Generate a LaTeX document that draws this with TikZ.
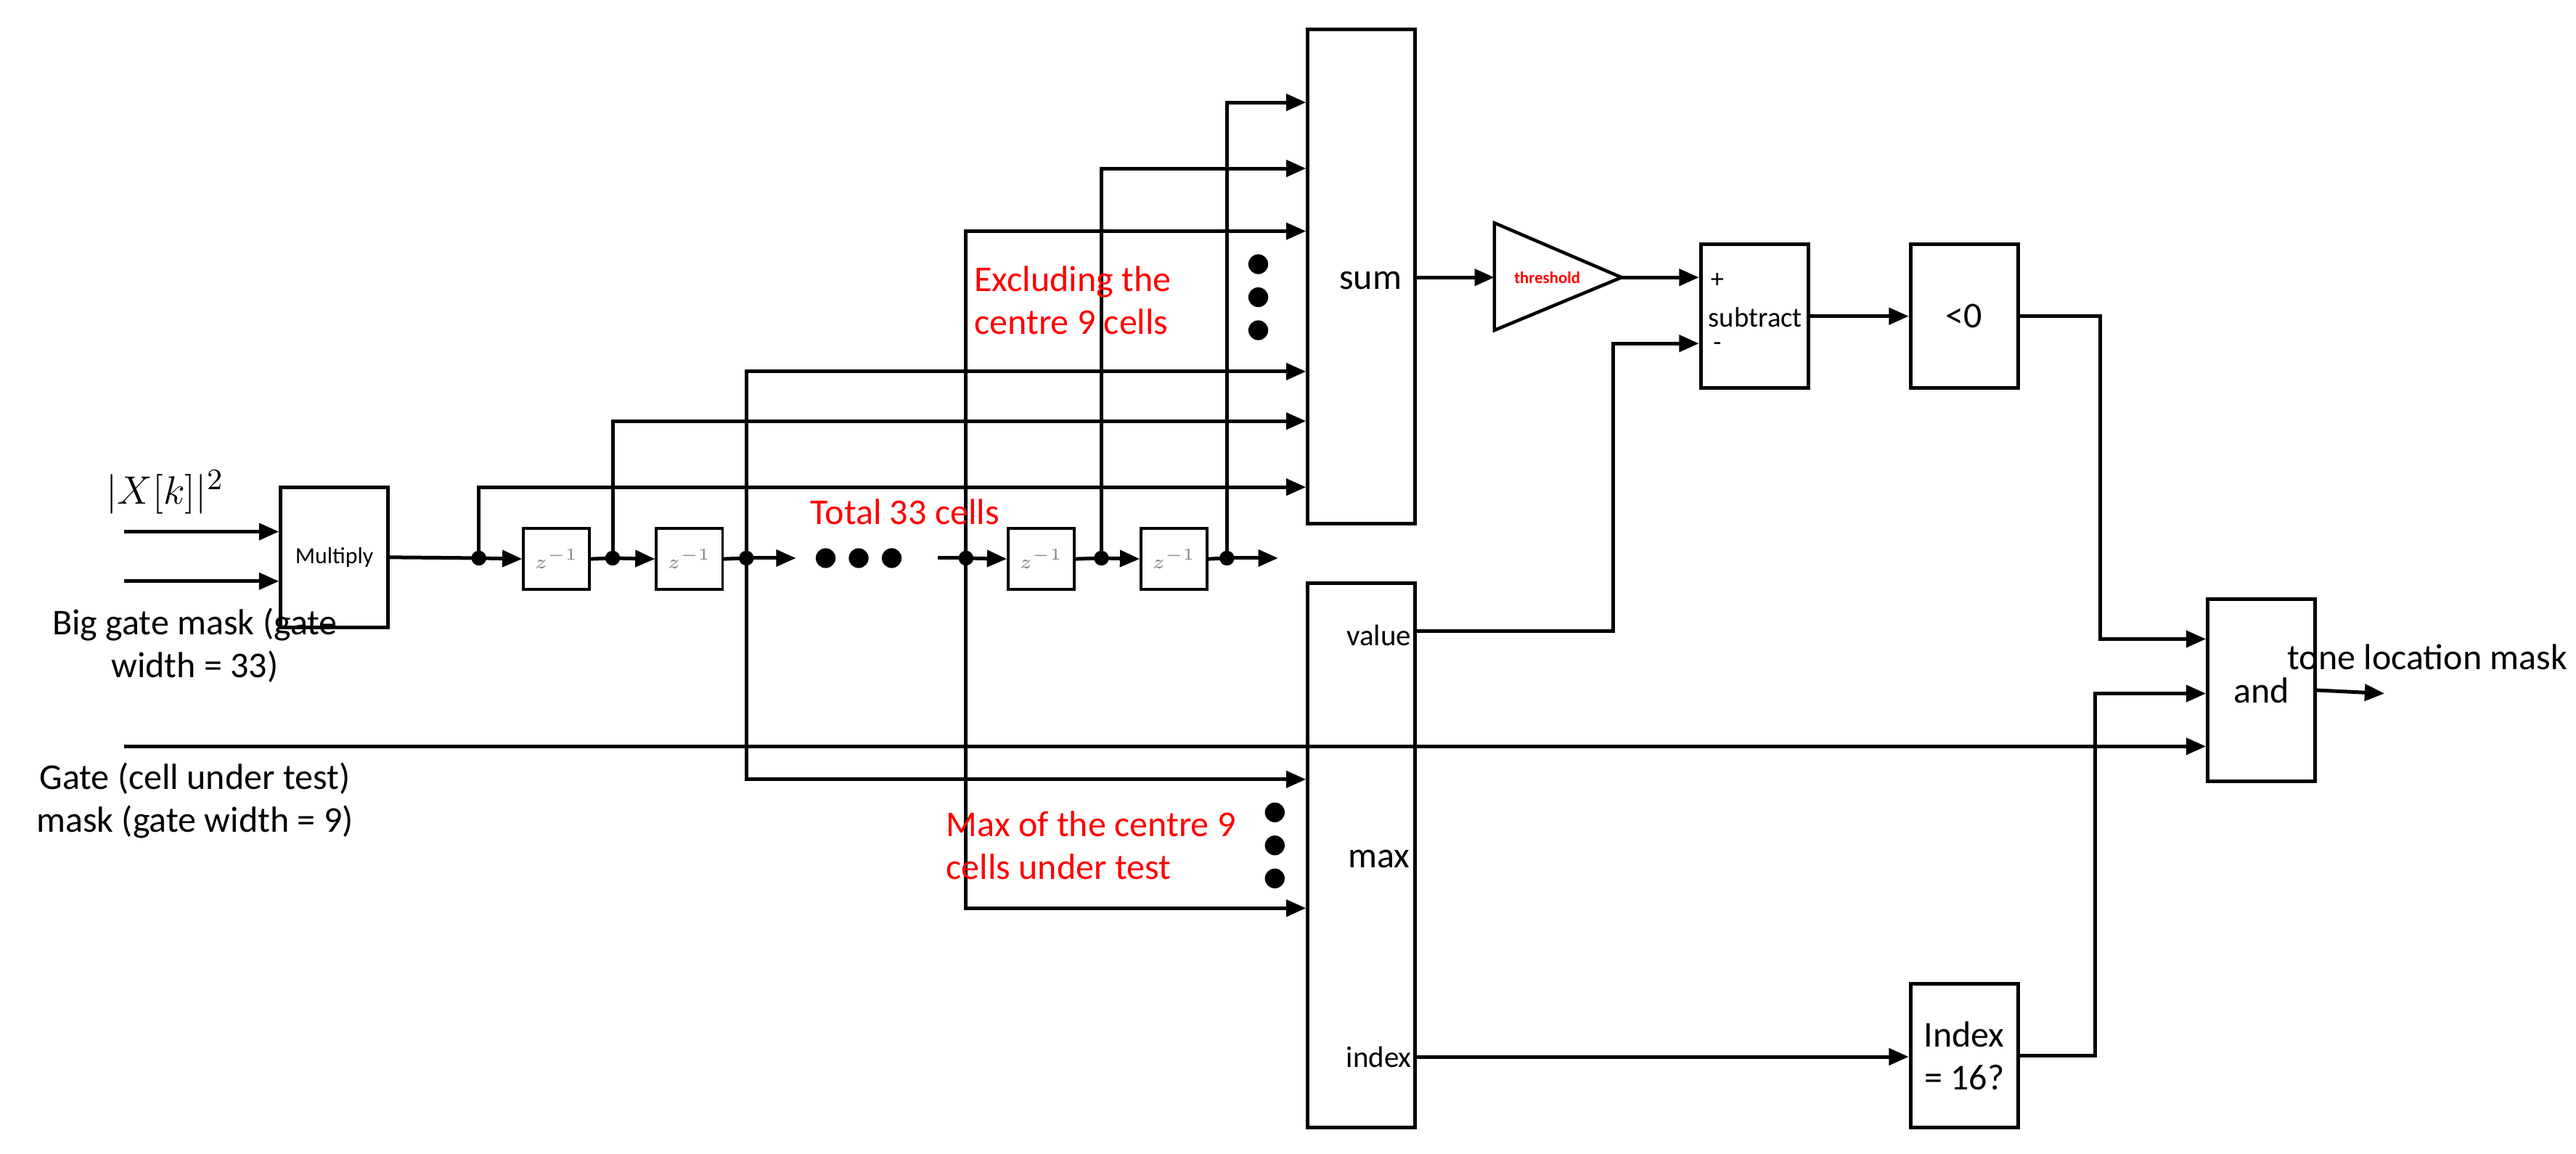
\documentclass[tikz,border=0pt]{standalone}
\usepackage{fontspec}
\setmainfont{Carlito}
\usetikzlibrary{arrows.meta}
\begin{document}
\begin{tikzpicture}[x=0.5pt,y=-0.5pt,line width=1.1pt,
  box/.style={draw,line width=1.1pt,inner sep=0pt,font=\fontsize{11}{13}\selectfont},
  zb/.style={draw,line width=0.8pt,inner sep=0pt,minimum width=20pt,minimum height=18.5pt,font=\fontsize{6}{6}\selectfont\color{gray}},
  arr/.style={-{Triangle[length=6pt,width=5pt]}},
  dot/.style={circle,fill,inner sep=0pt,minimum size=4.5pt},
  bigdot/.style={circle,fill,inner sep=0pt,minimum size=6pt},
  lab/.style={font=\fontsize{11}{13}\selectfont,align=center,inner sep=0pt},
  red/.style={font=\fontsize{11}{13}\selectfont,text=red,align=left,inner sep=0pt}]
\useasboundingbox (0,0) rectangle (1560,698.5);
% boxes
\node[box,minimum width=32.5pt,minimum height=42.5pt,font=\fontsize{7}{8}\selectfont] (mul) at (202.5,337.5) {Multiply};
\node[box,minimum width=32.5pt,minimum height=149.5pt] (sum) at (824.5,167.5) {};
\node[box,minimum width=32.5pt,minimum height=165pt] (max) at (824.5,518) {};
\node[box,minimum width=32.5pt,minimum height=43.5pt] (sub) at (1062.5,191.5) {};
\node[box,minimum width=32.5pt,minimum height=43.5pt] (lt) at (1189.5,191.5) {<0};
\node[box,minimum width=32.5pt,minimum height=43.5pt,align=center] (idx) at (1189.5,639.5) {Index\\= 16?};
\node[box,minimum width=32.5pt,minimum height=55pt] (and) at (1369.5,418) {and};
\node[zb] (z1) at (337,338.5) {$z^{-1}$};
\node[zb] (z2) at (417.5,338.5) {$z^{-1}$};
\node[zb] (z3) at (630.5,338.5) {$z^{-1}$};
\node[zb] (z4) at (711,338.5) {$z^{-1}$};
% labels inside
\node[lab] (lsum) at (830,170) {sum};
\node[lab,font=\fontsize{9}{10}\selectfont] (lval) at (835,385) {value};
\node[lab] (lmax) at (835,520) {max};
\node[lab,font=\fontsize{9}{10}\selectfont] (lidx) at (835,640) {index};
\node[lab,font=\fontsize{8}{9}\selectfont] (lp) at (1040,170) {+};
\node[lab,font=\fontsize{8.5}{9}\selectfont] (lsubt) at (1063,192) {subtract};
\node[lab,font=\fontsize{8}{9}\selectfont] (lm) at (1040,210) {-};
% threshold triangle
\coordinate (tA) at (905,135); \coordinate (tB) at (905,200); \coordinate (tC) at (982,168);
\draw[line width=1pt] (tA) -- (tC) -- (tB) -- cycle;
\node[font=\fontsize{5}{6}\selectfont\bfseries,text=red,inner sep=0pt] (thl) at (937,168) {threshold};
\coordinate (tin) at (905,168);
% main delay line
\coordinate (d1) at (290,338); \coordinate (d2) at (371,338); \coordinate (d3) at (452,338);
\coordinate (d4) at (585,338); \coordinate (d5) at (667,338); \coordinate (d6) at (743,338);
\coordinate (e1) at (482,338); \coordinate (e2) at (568,338); \coordinate (e3) at (774,338);
\draw (mul.east) -- (d1);
\draw[arr] (d1) -- (z1.west);
\draw (z1.east) -- (d2);
\draw[arr] (d2) -- (z2.west);
\draw (z2.east) -- (d3);
\draw[arr] (d3) -- (e1);
\draw (e2) -- (d4);
\draw[arr] (d4) -- (z3.west);
\draw (z3.east) -- (d5);
\draw[arr] (d5) -- (z4.west);
\draw (z4.east) -- (d6);
\draw[arr] (d6) -- (e3);
\foreach \p in {d1,d2,d3,d4,d5,d6} \node[dot] at (\p) {};
\foreach \x in {500,520,540} \node[bigdot] at (\x,338) {};
% taps to sum
\coordinate (s1) at (0,295); \coordinate (s2) at (0,255); \coordinate (s3) at (0,225);
\coordinate (s4) at (0,140); \coordinate (s5) at (0,102); \coordinate (s6) at (0,62);
\draw[arr] (d1) |- (sum.west |- s1);
\draw[arr] (d2) |- (sum.west |- s2);
\draw[arr] (d3) |- (sum.west |- s3);
\draw[arr] (d4) |- (sum.west |- s4);
\draw[arr] (d5) |- (sum.west |- s5);
\draw[arr] (d6) |- (sum.west |- s6);
\foreach \y in {160,180,200} \node[bigdot] at (762,\y) {};
% taps to max
\coordinate (m1) at (0,472); \coordinate (m2) at (0,550);
\draw[arr] (d3) |- (max.west |- m1);
\draw[arr] (d4) |- (max.west |- m2);
\foreach \y in {492,512,532} \node[bigdot] at (772,\y) {};
% inputs
\coordinate (i1) at (75,322); \coordinate (i2) at (75,352); \coordinate (g0) at (75,452);
\draw[arr] (i1) -- (mul.west |- i1);
\draw[arr] (i2) -- (mul.west |- i2);
\draw[arr] (g0) -- (and.west |- g0);
% right part
\draw[arr] (sum.east |- tin) -- (tin);
\draw[arr] (tC) -- (sub.west |- tC);
\coordinate (vo) at (0,382); \coordinate (sm) at (977,208);
\draw[arr] (max.east |- vo) -| (sm) -- (sub.west |- sm);
\draw[arr] (sub.east) -- (lt.west);
\coordinate (a1) at (1272,387); \coordinate (a2) at (1269,420);
\draw[arr] (lt.east) -| (a1) -- (and.west |- a1);
\coordinate (ix) at (0,640);
\draw[arr] (max.east |- ix) -- (idx.west |- ix);
\draw[arr] (idx.east) -| (a2) -- (and.west |- a2);
\coordinate (out) at (1444,420);
\draw[arr] (and.east) -- (out);
% texts
\node[font=\fontsize{13}{14}\selectfont,inner sep=0pt] (xk) at (100,298) {$|X[k]|^2$};
\node[lab] (bg) at (118,391) {Big gate mask (gate\\width = 33)};
\node[lab] (gt) at (118,485) {Gate (cell under test)\\mask (gate width = 9)};
\node[lab] (tlm) at (1470,398) {tone location mask};
\node[red,anchor=west] (ex) at (589,182) {Excluding the\\centre 9 cells};
\node[red] (tot) at (548,310) {Total 33 cells};
\node[red,anchor=west] (mx) at (572,512) {Max of the centre 9\\cells under test};
\end{tikzpicture}
\end{document}
